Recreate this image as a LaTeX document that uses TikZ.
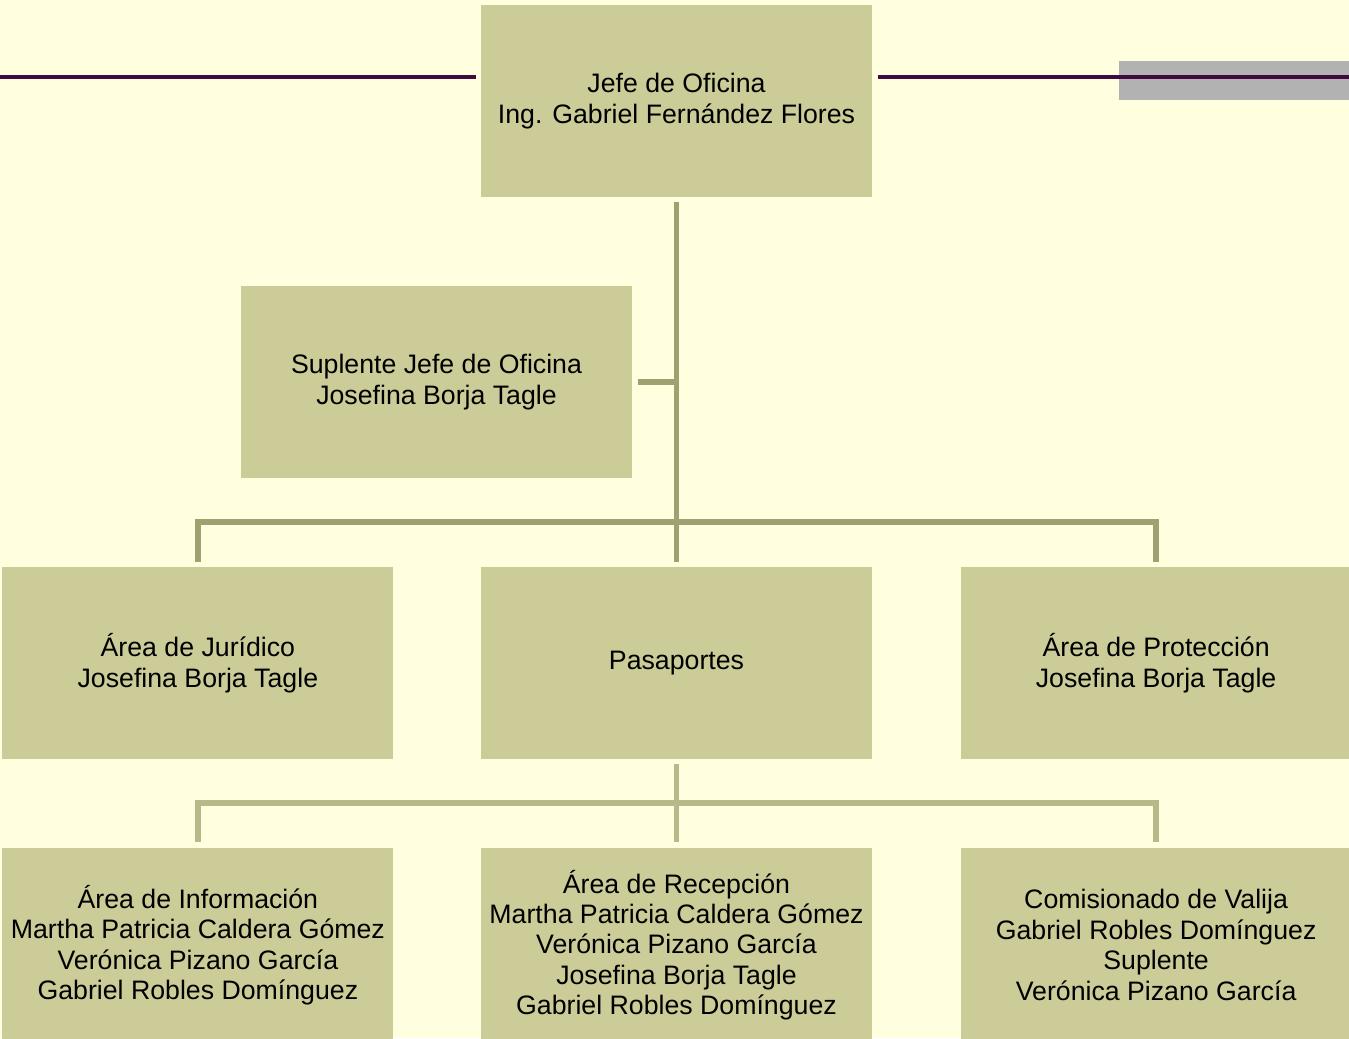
\documentclass[tikz,border=0pt]{standalone}
\usepackage{fontspec}
\setmainfont{Liberation Sans}
\usetikzlibrary{positioning}
\definecolor{fondo}{HTML}{FFFFE0}
\definecolor{caja}{HTML}{CCCC99}
\definecolor{linea}{HTML}{A0A070}
\definecolor{linea2}{HTML}{B8B888}
\definecolor{morado}{HTML}{3F0A3F}
\definecolor{barra}{HTML}{B2B2B2}
\begin{document}
\begin{tikzpicture}[x=0.02cm, y=-0.02cm]
  \tikzset{box/.style={fill=caja, minimum width=7.82cm, minimum height=3.84cm, align=center, inner sep=0pt,
      font=\fontsize{15.2}{17.3}\selectfont}}
  \tikzset{conn/.style={draw=linea, line width=0.11cm}}
  \tikzset{conn2/.style={draw=linea2, line width=0.11cm}}

  \fill[fondo] (0,0) rectangle (1349,1038);
  \useasboundingbox (0,0) rectangle (1349,1038);

  % top band
  \fill[barra] (1119,61) rectangle (1349,100);
  \draw[morado, line width=0.08cm] (0,77) -- (476,77);
  \draw[morado, line width=0.08cm] (878,77) -- (1349,77);

  \node[box] (jefe) at (676.5,101) {Jefe de Oficina\\Ing. Gabriel Fernández Flores};
  \node[box] (suplente) at (436.5,382) {Suplente Jefe de Oficina\\Josefina Borja Tagle};

  \node[box] (pasaportes) at (676.5,663) {Pasaportes};
  \node[box, left=1.74cm of pasaportes] (juridico) {Área de Jurídico\\Josefina Borja Tagle};
  \node[box, right=1.76cm of pasaportes] (proteccion) {Área de Protección\\Josefina Borja Tagle};

  \node[box, minimum height=3.9cm] (recepcion) at (676.5,945) {Área de Recepción\\Martha Patricia Caldera Gómez\\Verónica Pizano García\\Josefina Borja Tagle\\Gabriel Robles Domínguez};
  \node[box, minimum height=3.9cm, left=1.74cm of recepcion] (informacion) {Área de Información\\Martha Patricia Caldera Gómez\\Verónica Pizano García\\Gabriel Robles Domínguez};
  \node[box, minimum height=3.9cm, right=1.76cm of recepcion] (valija) {Comisionado de Valija\\Gabriel Robles Domínguez\\Suplente\\Verónica Pizano García};

  % connectors
  \coordinate (bus1) at (0,522);
  \coordinate (bus2) at (0,803);
  \draw[conn] (676.5,202) -- ([yshift=0.1cm]pasaportes.north);
  \draw[conn] ([xshift=0.12cm]suplente.east) -- (suplente.east -| jefe.south);
  \draw[conn] ([yshift=0.1cm]juridico.north) -- (juridico.north |- bus1) -- (proteccion.north |- bus1) -- ([yshift=0.1cm]proteccion.north);

  \draw[conn2] (676.5,764) -- ([yshift=0.1cm]recepcion.north);
  \draw[conn2] ([yshift=0.1cm]informacion.north) -- (informacion.north |- bus2) -- (valija.north |- bus2) -- ([yshift=0.1cm]valija.north);
\end{tikzpicture}
\end{document}
